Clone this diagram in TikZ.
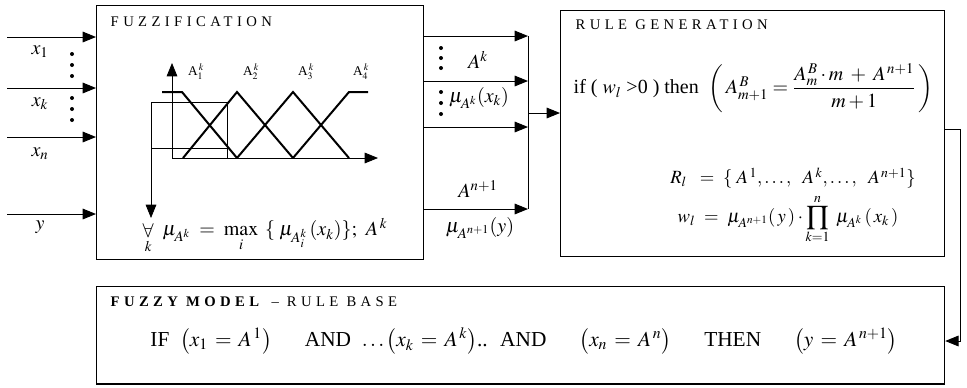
\documentclass[tikz,border=0pt]{standalone}
\usepackage{mathptmx}
\usepackage[no-math]{fontspec}
\setmainfont{Liberation Serif}
\usetikzlibrary{arrows.meta}

\begin{document}
\begin{tikzpicture}[x=0.75pt, y=-0.75pt,
    block/.style={draw, line width=0.9pt, anchor=north west, inner sep=0pt},
    flow/.style={-{Triangle[length=10pt, width=8pt]}, line width=0.7pt},
    link/.style={line width=0.7pt},
    mf/.style={line width=1.5pt},
    thinline/.style={line width=0.5pt},
    title/.style={anchor=west, font=\fontsize{11}{13}\selectfont\addfontfeatures{LetterSpace=30}},
    sig/.style={font=\fontsize{15}{17}\selectfont},
    term/.style={font=\fontsize{14}{17}\selectfont},
    dot/.style={fill, radius=2}
]
\useasboundingbox (0,0) rectangle (967,387);

% boxes
\node[block, minimum width=245.25pt, minimum height=190.5pt] (fuzz) at (96,5) {};
\node[block, minimum width=288pt, minimum height=184.5pt] (rule) at (560,10) {};
\node[block, minimum width=636pt, minimum height=73pt] (model) at (96,286) {};

% inputs
\coordinate (in1) at (7,37);
\coordinate (ink) at (7,88);
\coordinate (inn) at (7,137);
\coordinate (iny) at (7,214);
\draw[flow] (in1) -- (in1 -| fuzz.west);
\draw[flow] (ink) -- (ink -| fuzz.west);
\draw[flow] (inn) -- (inn -| fuzz.west);
\draw[flow] (iny) -- (iny -| fuzz.west);
\node[sig] (x1) at (40,52) {$x_1$};
\node[sig] (xk) at (40,104) {$x_k$};
\node[sig] (xn) at (40,154) {$x_n$};
\node[sig] (y) at (40,227) {$y$};
\foreach \yy in {54,65,76,98,109,120}
  \fill[dot] (72,\yy) circle;

% fuzzification
\node[title] (fuzz-title) at (106,22) {FUZZIFICATION};
\draw[flow, line width=0.6pt] (172,158) -- (172,63);
\draw[flow, line width=0.6pt] (172,158) -- (378,158);
\draw[mf] (162,92) -- (182,92) -- (237,158);
\draw[mf] (183,158) -- (237,92) -- (293,158);
\draw[mf] (237,158) -- (293,92) -- (349,158);
\draw[mf] (293,158) -- (349,92) -- (368,92);
\node[font=\normalsize] (a1) at (196,72) {A$_1^{\,k}$};
\node[font=\normalsize] (a2) at (251,72) {A$_2^{\,k}$};
\node[font=\normalsize] (a3) at (306,72) {A$_3^{\,k}$};
\node[font=\normalsize] (a4) at (361,72) {A$_4^{\,k}$};
\draw[thinline] (151,102) -- (227,102) -- (227,158);
\draw[thinline] (151,148) -- (227,148);
\coordinate (cut) at (151,102);
\draw[flow, line width=0.6pt] (cut) -- (151,218);
\node[sig] (maxrule) at (265,236)
  {$\mathop{\forall}\limits_{k}\;\, \mu_{A^k} \;=\; \max\limits_{i}\;\, \{\;\mu_{A_i^k}\,(x_k)\};\;\, A^{\,k}$};

% outputs of fuzzification
\coordinate (join) at (528,113);
\foreach \yy in {36,81,127,209}
  \draw[flow] (fuzz.east |- 0,\yy) -- (528,\yy);
\draw[link] (528,36) -- (528,209);
\draw[flow] (join) -- (join -| rule.west);
\foreach \yy in {48,58,68,92,103,114}
  \fill[dot] (441,\yy) circle;
\node[sig] (ak) at (478,60) {$A^k$};
\node[sig] (muk) at (479,98) {$\mu_{A^k}(x_k)$};
\node[sig] (an1) at (478,189) {$A^{n+1}$};
\node[sig] (muy) at (480,228) {$\mu_{A^{n+1}}(y)$};

% rule generation
\node[title] (rule-title) at (571,25) {RULE GENERATION};
\node[term, anchor=west, font=\fontsize{15}{18}\selectfont] (update) at (569,88)
  {if ( $w_l$ >0 ) then \ $\left(\,A_{m+1}^{\,B} = \displaystyle\frac{A_m^{\,B}\cdot m \;+\; A^{\,n+1}}{m+1}\,\right)$};
\node[term] (rl) at (793,178) {$R_l\;\ =\ \{\;A^{\,1},\ldots,\ \ A^{\,k},\ldots,\ \ A^{\,n+1}\}$};
\node[term] (wl) at (788,219) {$w_l\ =\ \mu_{A^{n+1}}(\,y\,)\cdot\displaystyle\prod_{k=1}^{n}\ \mu_{A^k}\,(\,x_k\,)$};
\coordinate (turn) at (960,129);
\draw[flow] (rule.east |- turn) -- (turn) |- (model.east |- 0,341);

% fuzzy model
\node[title] (model-title) at (106,302)
  {\textbf{FUZZY MODEL} -- RULE BASE};
\node[term, font=\fontsize{16}{19}\selectfont] (rulebase) at (524,341)
  {IF \ $\bigl(x_1 \,=\, A^{\,1}\bigr)$\hspace{1.55em}AND \ $\ldots\bigl(x_k \,=\, A^{\,k}\bigr)$.. \ AND\hspace{1.55em}$\bigl(x_n \,=\, A^{\,n}\bigr)$\hspace{1.55em}THEN\hspace{1.55em}$\bigl(y \,=\, A^{\,n+1}\bigr)$};
\end{tikzpicture}
\end{document}
